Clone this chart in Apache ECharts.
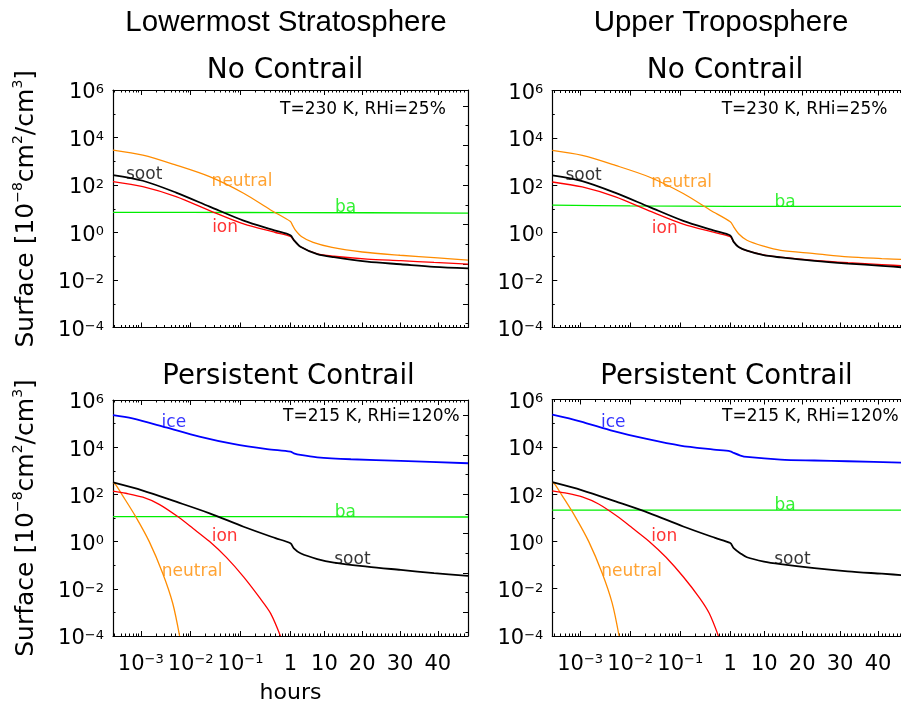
<!DOCTYPE html>
<html>
<head>
<meta charset="utf-8">
<script src="https://cdn.jsdelivr.net/npm/echarts@6/dist/echarts.min.js"></script>
<style>
html,body{margin:0;padding:0;background:#ffffff;}
#c{width:901px;height:704px;}
</style>
</head>
<body>
<div id="c"></div>
<script>
// ---------------- DATA (time in hours, surface in 1e-8 cm^2/cm^3) ----------------
const T0 = 1 / 3600; // 1 second

// Lowermost Stratosphere, No Contrail
const lsNoNeutral = [[T0,2950],[0.0011,1820],[0.0051,690],[0.024,224],[0.115,45],[0.4,8.9],[1,2.9],[1.5,2.1],[2.3,1.26],[4,0.66],[7,0.38],[12,0.234],[20,0.151],[30,0.11],[40,0.085],[48,0.069]];
const lsNoSoot    = [[T0,263],[0.0011,151],[0.0051,48],[0.024,12.3],[0.115,3.16],[0.5,1.2],[1,0.76],[1.9,0.48],[3.65,0.25],[8.1,0.123],[12.5,0.091],[21.3,0.059],[30.2,0.046],[39,0.036],[48,0.031]];
const lsNoIon     = [[T0,138],[0.0011,85],[0.0051,32.4],[0.024,8.3],[0.115,2.29],[0.5,1.0],[1,0.68],[1.9,0.47],[3.65,0.25],[8.1,0.126],[12.5,0.1],[21.3,0.076],[30.2,0.065],[39,0.055],[48,0.047]];
const lsNoBa      = [[T0,7.1],[0.01,7.0],[1,6.9],[48,6.6]];

// Upper Troposphere, No Contrail
const utNoNeutral = [[T0,2950],[0.0011,1820],[0.0051,690],[0.024,224],[0.115,45],[0.4,8.9],[1,2.9],[1.9,1.78],[3.2,0.91],[5.4,0.48],[9.8,0.27],[14.3,0.18],[23.2,0.132],[32.1,0.095],[41,0.081],[48,0.073]];
const utNoSoot    = [[T0,263],[0.0011,151],[0.0051,48],[0.024,12.3],[0.115,3.16],[0.5,1.2],[1,0.76],[1.9,0.41],[3.2,0.25],[5.4,0.174],[9.8,0.112],[14.3,0.091],[23.2,0.065],[32.1,0.05],[41,0.04],[48,0.033]];
const utNoIon     = [[T0,138],[0.0011,85],[0.0051,32.4],[0.024,8.3],[0.115,2.29],[0.5,1.0],[1,0.68],[1.9,0.41],[3.2,0.25],[5.4,0.174],[9.8,0.115],[14.3,0.093],[23.2,0.068],[32.1,0.054],[41,0.045],[48,0.039]];
const utNoBa      = [[T0,14.5],[0.01,13.6],[1,13.0],[48,12.8]];

// Lowermost Stratosphere, Persistent Contrail
const lsPeIce     = [[T0,229000],[0.00068,166000],[0.0032,69000],[0.015,28200],[0.071,13800],[0.34,8300],[1,6460],[1.9,5500],[3.65,4680],[8.1,3720],[17,3090],[30.2,2630],[48,2090]];
const lsPeSoot    = [[T0,320],[0.0011,145],[0.0051,49],[0.024,15.8],[0.115,4.27],[0.5,1.4],[1,0.85],[1.9,0.52],[3.65,0.32],[8.1,0.182],[12.5,0.129],[21.3,0.087],[30.2,0.063],[39,0.046],[48,0.035]];
const lsPeIon     = [[T0,138],[0.0005,112],[0.0011,76],[0.00234,38],[0.0055,11.5],[0.0112,3.6],[0.024,1.0],[0.052,0.214],[0.115,0.032],[0.245,0.004],[0.4,0.00091],[0.63,0.0001]];
const lsPeNeutral = [[T0,320],[0.000316,251],[0.000427,93],[0.00079,11.5],[0.00148,1.0],[0.00275,0.046],[0.00437,0.00245],[0.006,0.0001]];
const lsPeBa      = [[T0,11.5],[1,11.4],[48,11.0]];

// Upper Troposphere, Persistent Contrail
const utPeIce     = [[T0,229000],[0.001,120000],[0.0047,45700],[0.0214,21400],[0.1,11200],[0.47,7600],[1,6460],[1.9,5500],[3.7,4270],[5.4,3720],[14.3,2880],[23.2,2630],[32,2450],[48,2090]];
const utPeSoot    = [[T0,320],[0.0011,145],[0.0051,49],[0.024,15.8],[0.115,4.27],[0.5,1.4],[1,0.85],[1.9,0.52],[3.7,0.31],[5.4,0.214],[9.9,0.141],[14.3,0.11],[23.2,0.074],[32,0.054],[41,0.043],[48,0.036]];
const utPeIon     = [[T0,138],[0.0005,112],[0.0011,76],[0.00234,38],[0.0055,11.5],[0.0112,3.6],[0.024,1.0],[0.052,0.214],[0.115,0.032],[0.245,0.004],[0.38,0.00091],[0.58,0.0001]];
const utPeNeutral = [[T0,320],[0.000316,251],[0.000427,93],[0.00079,11.5],[0.00148,1.0],[0.00275,0.046],[0.00437,0.00245],[0.006,0.0001]];
const utPeBa      = [[T0,21],[1,21],[48,21]];

// Axis ticks / labels
const xMajorHours = [0.001, 0.01, 0.1, 1, 10, 20, 30, 40];
const xMajorText  = ['{b|10}{s|−3}', '{b|10}{s|−2}', '{b|10}{s|−1}', '{b|1}', '{b|10}', '{b|20}', '{b|30}', '{b|40}'];
const yExponents  = [-4, -2, 0, 2, 4, 6];

// ---------------- AXIS TRANSFORM (log below 1 h, linear above) ----------------
const K = 0.0757; // decades-equivalent per hour on the linear part
function X(t) { return t <= 1 ? Math.log10(t) : (t - 1) * K; }
const XMIN = X(T0), XMAX = X(48);

const xMajor = xMajorHours.map(X);
const xMinorHours = [];
for (let d = -4; d < 0; d++) for (let m = 2; m < 10; m++) { const h = m * Math.pow(10, d); if (h >= T0 && h < 1) xMinorHours.push(h); }
for (let h = 2; h < 48; h++) if (h % 10) xMinorHours.push(h);
const xMinor = xMinorHours.map(X);

const rMajor = [0.6, 1.6, 2.6, 3.6, 4.6, 5.6];
const rMinor = [0.1, 1.1, 2.1, 3.1, 4.1, 5.1];

const FONT = 'DejaVu Sans';
const C = {neutral:'#ff8c00', ion:'#ff0000', soot:'#000000', ba:'#00ee00', ice:'#0000ff'};

function xFmt(v) {
  for (let i = 0; i < xMajor.length; i++) if (Math.abs(xMajor[i] - v) < 1e-6) return xMajorText[i];
  return '';
}
function yFmt(v) {
  const e = Math.round(v);
  return '{b|10}{s|' + (e < 0 ? '−' + (-e) : String(e)) + '}';
}
const xRich = {
  b: {fontSize: 21, fontFamily: FONT, color: '#000', lineHeight: 24},
  s: {fontSize: 13, fontFamily: FONT, color: '#000', lineHeight: 12, verticalAlign: 'top'}
};
const yRich = {
  b: {fontSize: 21, fontFamily: FONT, color: '#000', lineHeight: 24, padding: [6, 0, 0, 0]},
  s: {fontSize: 13, fontFamily: FONT, color: '#000', lineHeight: 12, verticalAlign: 'top', padding: [5, 0, 0, 0]}
};

const panels = [
  {grid:{left:113, top:90, width:355, height:237.5}, xl:false, yName:true, hours:false,
   lines:[[lsNoBa,C.ba,1.3],[lsNoNeutral,C.neutral,1.3],[lsNoIon,C.ion,1.3],[lsNoSoot,C.soot,1.8]],
   tags:[['soot',0.00117,263,C.soot],['neutral',0.107,135,C.neutral],['ba',15.6,10.7,C.ba],['ion',0.049,1.55,C.ion]]},
  {grid:{left:552.3, top:90.5, width:356, height:237}, xl:false, yName:false, hours:false,
   lines:[[utNoBa,C.ba,1.3],[utNoNeutral,C.neutral,1.3],[utNoIon,C.ion,1.3],[utNoSoot,C.soot,1.8]],
   tags:[['soot',0.00117,263,C.soot],['neutral',0.107,135,C.neutral],['ba',15.5,18,C.ba],['ion',0.049,1.55,C.ion]]},
  {grid:{left:113, top:400, width:355, height:236}, xl:true, yName:true, hours:true,
   lines:[[lsPeBa,C.ba,1.3],[lsPeNeutral,C.neutral,1.3],[lsPeIon,C.ion,1.3],[lsPeSoot,C.soot,1.8],[lsPeIce,C.ice,1.8]],
   tags:[['ice',0.0046,107000,C.ice],['ba',15.5,17,C.ba],['ion',0.048,1.66,C.ion],['soot',17.4,0.166,C.soot],['neutral',0.0107,0.054,C.neutral]]},
  {grid:{left:552.3, top:399.5, width:356, height:236.5}, xl:true, yName:false, hours:false,
   lines:[[utPeBa,C.ba,1.3],[utPeNeutral,C.neutral,1.3],[utPeIon,C.ion,1.3],[utPeSoot,C.soot,1.8],[utPeIce,C.ice,1.8]],
   tags:[['ice',0.0046,107000,C.ice],['ba',15.5,32,C.ba],['ion',0.048,1.66,C.ion],['soot',17.4,0.166,C.soot],['neutral',0.0107,0.054,C.neutral]]}
];

const axisLineOn = {show:true, onZero:false, lineStyle:{color:'#000', width:1.2}};
const axisLineOff = {show:false, onZero:false};
const grid = [], xAxis = [], yAxis = [], series = [];

panels.forEach((p, g) => {
  grid.push(Object.assign({containLabel:false, outerBoundsMode:'none'}, p.grid));
  const xb = {type:'value', gridIndex:g, min:XMIN, max:XMAX, splitLine:{show:false}, axisPointer:{show:false}};
  const majT = {show:true, inside:true, length:5, customValues:xMajor, lineStyle:{color:'#000', width:1}};
  const minT = {show:true, inside:true, length:2.5, customValues:xMinor, lineStyle:{color:'#000', width:1}};
  xAxis.push(Object.assign({}, xb, {
    position:'bottom', axisLine:axisLineOn, axisTick:majT,
    axisLabel: p.xl ? {show:true, customValues:xMajor, formatter:xFmt, margin:17, rich:xRich} : {show:false},
    name: p.hours ? 'hours' : '', nameLocation:'middle', nameGap:46,
    nameTextStyle:{fontSize:22, fontFamily:FONT, color:'#000'}
  }));
  xAxis.push(Object.assign({}, xb, {position:'bottom', axisLine:axisLineOff, axisTick:minT, axisLabel:{show:false}}));
  xAxis.push(Object.assign({}, xb, {position:'top', axisLine:axisLineOn, axisTick:majT, axisLabel:{show:false}}));
  xAxis.push(Object.assign({}, xb, {position:'top', axisLine:axisLineOff, axisTick:minT, axisLabel:{show:false}}));

  yAxis.push({type:'log', logBase:10, gridIndex:g, min:1e-4, max:1e6, show:false, position:'right'});
  yAxis.push({
    type:'value', gridIndex:g, position:'left', min:yExponents[0], max:yExponents[yExponents.length-1], interval:2,
    axisLine:axisLineOn, axisTick:{show:true, inside:true, length:5, lineStyle:{color:'#000'}},
    minorTick:{show:true, splitNumber:2, length:2.5, lineStyle:{color:'#000'}},
    splitLine:{show:false}, minorSplitLine:{show:false},
    axisLabel:{show:true, formatter:yFmt, margin:9, rich:yRich},
    name: p.yName ? 'Surface [10{s|−8}cm{s|2}/cm{s|3}]' : '', nameLocation:'middle', nameGap:72, nameRotate:90,
    nameTextStyle:{fontSize:25, fontFamily:FONT, color:'#000', lineHeight:30,
      rich:{s:{fontSize:14, fontFamily:FONT, color:'#000', lineHeight:14, verticalAlign:'top'}}}
  });
  yAxis.push({type:'value', gridIndex:g, position:'right', min:0, max:6,
    axisLine:axisLineOn, axisTick:{show:true, inside:true, length:5, customValues:rMajor, lineStyle:{color:'#000'}},
    axisLabel:{show:false}, splitLine:{show:false}});
  yAxis.push({type:'value', gridIndex:g, position:'right', min:0, max:6,
    axisLine:axisLineOff, axisTick:{show:true, inside:true, length:2.5, customValues:rMinor, lineStyle:{color:'#000'}},
    axisLabel:{show:false}, splitLine:{show:false}});

  p.lines.forEach(([arr, col, w]) => {
    series.push({type:'line', xAxisIndex:4*g, yAxisIndex:4*g, data:arr.map(d => [X(d[0]), d[1]]),
      showSymbol:false, symbol:'none', smooth:0.3, clip:true, silent:true,
      lineStyle:{color:col, width:w}, itemStyle:{color:col}});
  });
  p.tags.forEach(([txt, t, v, col]) => {
    series.push({type:'scatter', xAxisIndex:4*g, yAxisIndex:4*g, symbolSize:0, silent:true,
      data:[{name:txt, value:[X(t), v]}],
      label:{show:true, position:'inside', formatter:'{b}', color:col, fontSize:17, fontFamily:FONT}});
  });
});

const texts = [
  ['Lowermost Stratosphere', 286, 23, 29.5, 'Liberation Sans', 'center'],
  ['Upper Troposphere', 721, 23, 29.5, 'Liberation Sans', 'center'],
  ['No Contrail', 285, 70.5, 28, FONT, 'center'],
  ['No Contrail', 725, 70.5, 28, FONT, 'center'],
  ['Persistent Contrail', 288.5, 377, 27.5, FONT, 'center'],
  ['Persistent Contrail', 726.5, 377, 27.5, FONT, 'center'],
  ['T=230 K, RHi=25%', 280, 110, 17, FONT, 'left'],
  ['T=230 K, RHi=25%', 721.7, 110, 17, FONT, 'left'],
  ['T=215 K, RHi=120%', 283, 416.7, 17, FONT, 'left'],
  ['T=215 K, RHi=120%', 722, 416.7, 17, FONT, 'left']
];
const graphic = texts.map(([t, x, y, size, fam, al]) => ({
  type:'text', x:x, y:y, silent:true,
  style:{text:t, fill:'#000', fontSize:size, fontFamily:fam, fontWeight:'normal', align:al, verticalAlign:'middle'}
}));

const chart = echarts.init(document.getElementById('c'), null, {renderer:'canvas', width:901, height:704});
chart.setOption({
  animation:false,
  backgroundColor:'#ffffff',
  textStyle:{fontFamily:FONT},
  grid:grid, xAxis:xAxis, yAxis:yAxis, series:series, graphic:graphic
});
</script>
</body>
</html>
